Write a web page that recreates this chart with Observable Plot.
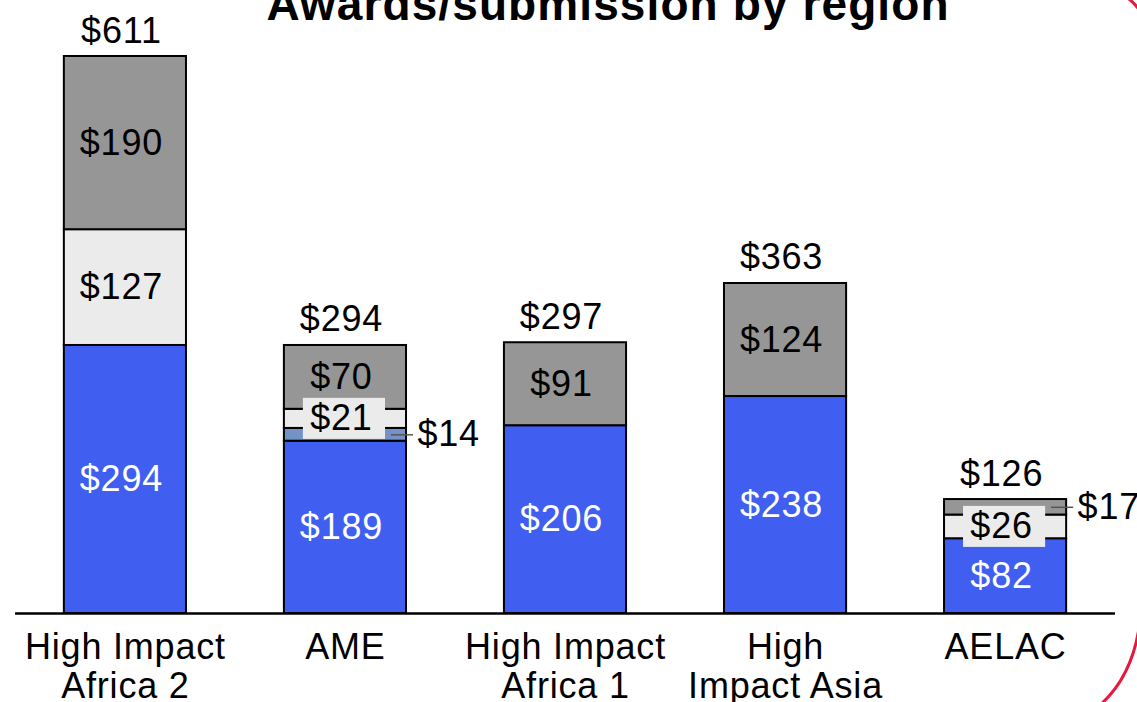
<!DOCTYPE html>
<html>
<head>
<meta charset="utf-8">
<script src="https://cdn.jsdelivr.net/npm/d3@7"></script>
<script src="https://cdn.jsdelivr.net/npm/@observablehq/plot@0.6"></script>
<style>
  html, body { margin: 0; padding: 0; background: #fff; overflow: hidden; }
  #wrap { position: relative; width: 1137px; height: 702px; }
  #title { position: absolute; top: -19px; left: 608px; transform: translateX(-50%);
           font: bold 46px "Liberation Sans", Arial, sans-serif; letter-spacing: 1.1px; line-height: 1; white-space: nowrap; color: #000; }
  #deco { position: absolute; left: 0; top: 0; pointer-events: none; }
  #chart svg text { letter-spacing: 0.8px; }
</style>
</head>
<body>
<div id="wrap">
  <div id="chart"></div>
  <div id="title">Awards/submission by region</div>
  <svg id="deco" width="1137" height="702">
    <path d="M1125 -4 C1131 0 1136 5 1141 12" fill="none" stroke="#e8173d" stroke-width="3"/>
    <path d="M1141 610 C1138 655 1122 686 1099 706" fill="none" stroke="#e8173d" stroke-width="3"/>
  </svg>
</div>
<script>
const regions = ["High Impact Africa 2", "AME", "High Impact Africa 1", "High Impact Asia", "AELAC"];
const regionLabels = ["High Impact\nAfrica 2", "AME", "High Impact\nAfrica 1", "High\nImpact Asia", "AELAC"];
const seriesNames = ["Awarded", "Other", "Pending", "Declined"];
const seriesColors = ["#405ef0", "#7393c6", "#ebebeb", "#969696"];
const awarded  = [294, 189, 206, 238, 82];
const other    = [0, 14, 0, 0, 0];
const pending  = [127, 21, 0, 0, 26];
const declined = [190, 70, 91, 124, 17];
const totalLabels = [611, 294, 297, 363, 126];

const seriesValues = [awarded, other, pending, declined];
const rows = [];
const tops = [];
regions.forEach((r, i) => {
  let cum = 0;
  seriesValues.forEach((vals, s) => {
    const v = vals[i];
    if (!v) return;
    rows.push({region: r, series: seriesNames[s], value: v, y1: cum, y2: cum + v, mid: cum + v / 2});
    cum += v;
  });
  tops.push({region: r, top: cum, label: totalLabels[i]});
});
const outside = rows.filter(d => d.value < 20);
const inside = rows.filter(d => d.value >= 20);
const boxed = inside.filter(d => d.series === "Pending");

const W = 1137, H = 702;
const mTop = 56, mBottom = 89, mLeft = 15, mRight = 22;
const yMax = d3.max(tops, d => d.top);
const unitsPerPx = yMax / (H - mTop - mBottom);
const boxHalf = 20.5 * unitsPerPx;
const labelMap = new Map(regions.map((r, i) => [r, regionLabels[i]]));
const FS = 36;

const chart = Plot.plot({
  width: W, height: H,
  marginTop: mTop, marginBottom: mBottom, marginLeft: mLeft, marginRight: mRight,
  style: {fontFamily: '"Liberation Sans", Arial, sans-serif', background: "transparent", color: "#000"},
  x: {domain: regions, paddingInner: 0.445, paddingOuter: 0.222, round: false, axis: null},
  y: {domain: [0, yMax], axis: null},
  color: {domain: seriesNames, range: seriesColors},
  marks: [
    Plot.barY(rows, {x: "region", y1: "y1", y2: "y2", fill: "series", stroke: "#000", strokeWidth: 2}),
    Plot.barY(boxed, {x: "region", y1: d => d.mid - boxHalf, y2: d => d.mid + boxHalf,
                      insetLeft: 19, insetRight: 21, fill: "#ebebeb"}),
    Plot.text(inside, {x: "region", y: "mid", text: d => "$" + d.value, fontSize: FS, dx: -4,
                       fill: d => d.series === "Awarded" ? "#fff" : "#000"}),
    Plot.tickY(outside, {x: "region", y: "mid", insetLeft: 100, dx: 7, stroke: "#555", strokeWidth: 1.5}),
    Plot.text(outside, {x: "region", y: "mid", text: d => "$" + d.value, fontSize: FS,
                        textAnchor: "start", dx: 72, fill: "#000"}),
    Plot.text(tops, {x: "region", y: "top", text: d => "$" + d.label, fontSize: FS, dx: -4,
                     lineAnchor: "bottom", dy: -14, fill: "#000"}),
    Plot.ruleY([0], {stroke: "#000", strokeWidth: 2.5}),
    Plot.axisX({tickSize: 0, tickPadding: 17, fontSize: FS, lineHeight: 1.1,
                tickFormat: d => labelMap.get(d), label: null, fill: "#000"})
  ]
});
document.getElementById("chart").appendChild(chart);
</script>
</body>
</html>
